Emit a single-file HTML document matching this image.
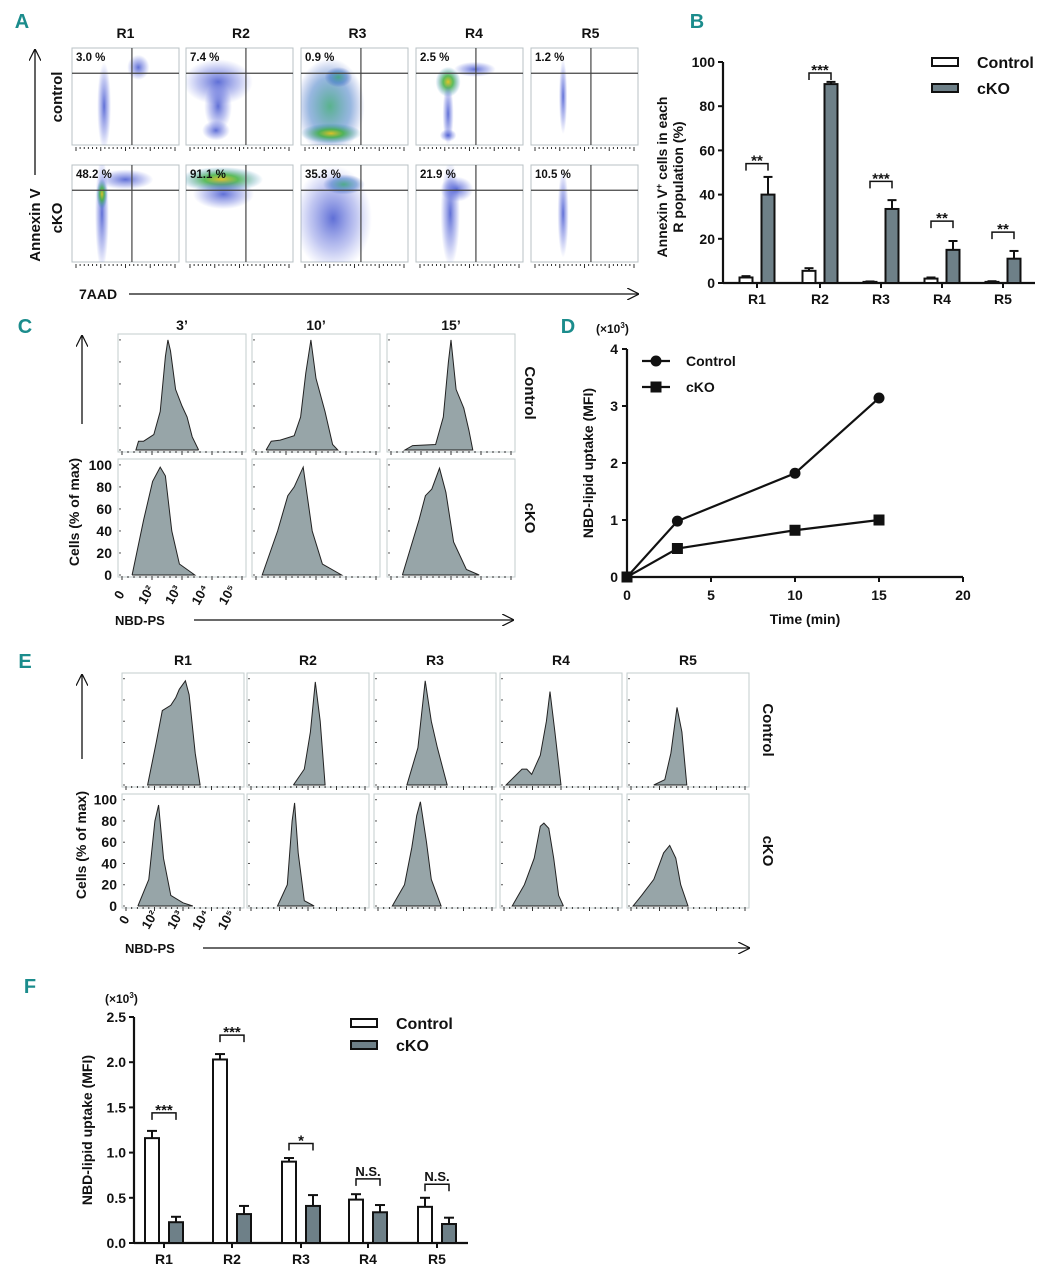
<!DOCTYPE html>
<html><head><meta charset="utf-8">
<style>
html,body{margin:0;padding:0;background:#fff;}
svg{display:block;font-family:"Liberation Sans",sans-serif;}
.t{font-weight:bold;fill:#111;}
.pl{font-weight:bold;fill:#1b8c8c;font-size:20px;}
</style></head>
<body>
<svg id="fig" width="1055" height="1280" viewBox="0 0 1055 1280" xmlns="http://www.w3.org/2000/svg">
<defs>
<marker id="ah" viewBox="0 0 10 10" refX="9" refY="5" markerWidth="12" markerHeight="12" markerUnits="userSpaceOnUse" orient="auto"><path d="M0,0 L10,5 L0,10" fill="none" stroke="#111" stroke-width="1"/></marker>
<radialGradient id="gBlue"><stop offset="0" stop-color="#2a3fc8" stop-opacity="0.75"/><stop offset="0.6" stop-color="#5060d8" stop-opacity="0.35"/><stop offset="1" stop-color="#6070e0" stop-opacity="0"/></radialGradient>
<radialGradient id="gHot"><stop offset="0" stop-color="#e0c020" stop-opacity="0.95"/><stop offset="0.4" stop-color="#40b040" stop-opacity="0.85"/><stop offset="1" stop-color="#2a7fc0" stop-opacity="0"/></radialGradient>
<radialGradient id="gGreen"><stop offset="0" stop-color="#30a070" stop-opacity="0.8"/><stop offset="0.6" stop-color="#3070c0" stop-opacity="0.5"/><stop offset="1" stop-color="#3050c0" stop-opacity="0"/></radialGradient>
</defs>
<g id="panelA"></g>
<g id="panelB"></g>
<g id="panelC"></g>
<g id="panelD"></g>
<g id="panelE"></g>
<g id="panelF"></g>
</svg>
<script>
// ---------- DATA ----------
const popLabels = ["R1","R2","R3","R4","R5"];
// Panel A
const aPctControl = ["3.0 %","7.4 %","0.9 %","2.5 %","1.2 %"];
const aPctCKO = ["48.2 %","91.1 %","35.8 %","21.9 %","10.5 %"];
const aCloudsControl = [
 [[0.3,0.6,0.05,0.35,"b"],[0.62,0.2,0.08,0.1,"b"]],
 [[0.3,0.35,0.25,0.18,"b"],[0.28,0.85,0.1,0.08,"b"],[0.3,0.6,0.1,0.2,"b"]],
 [[0.27,0.6,0.25,0.38,"g"],[0.28,0.88,0.22,0.08,"h"],[0.35,0.3,0.1,0.08,"g"]],
 [[0.3,0.35,0.09,0.12,"h"],[0.3,0.68,0.04,0.25,"b"],[0.55,0.22,0.15,0.06,"b"],[0.3,0.9,0.06,0.05,"b"]],
 [[0.3,0.5,0.03,0.3,"b"]]
];
const aCloudsCKO = [
 [[0.28,0.5,0.05,0.45,"b"],[0.28,0.3,0.04,0.12,"h"],[0.5,0.15,0.2,0.08,"b"]],
 [[0.33,0.15,0.3,0.1,"h"],[0.35,0.3,0.22,0.12,"b"]],
 [[0.3,0.55,0.28,0.42,"b"],[0.4,0.2,0.15,0.08,"g"]],
 [[0.32,0.5,0.07,0.42,"b"],[0.38,0.25,0.12,0.1,"b"]],
 [[0.3,0.5,0.04,0.35,"b"]]
];
// Panel B
const bCtrl = [2.5,5.5,0.5,2,0.5];
const bCtrlErr = [0.6,1.2,0.2,0.5,0.3];
const bCko = [40,90,33.5,15,11];
const bCkoErr = [8,1,4,4,3.5];
const bSig = ["**","***","***","**","**"];
const bSigLevel = [54,95,46,28,23];
const bTicks = [0,20,40,60,80,100];
// Panel C
const cTimes = ["3’","10’","15’"];
const cHistControl = [
 [[0.14,0],[0.16,8],[0.2,8],[0.28,14],[0.33,35],[0.37,85],[0.39,100],[0.41,90],[0.45,55],[0.5,40],[0.54,30],[0.58,12],[0.63,0]],
 [[0.11,0],[0.15,8],[0.22,9],[0.33,13],[0.38,30],[0.42,70],[0.46,100],[0.5,65],[0.57,35],[0.63,5],[0.67,0]],
 [[0.14,0],[0.2,4],[0.38,5],[0.44,30],[0.48,80],[0.5,100],[0.54,55],[0.6,38],[0.64,18],[0.67,0]]
];
const cHistCKO = [
 [[0.11,0],[0.2,50],[0.27,85],[0.33,98],[0.37,90],[0.42,40],[0.48,10],[0.6,0]],
 [[0.08,0],[0.2,40],[0.28,72],[0.33,80],[0.4,98],[0.47,40],[0.55,10],[0.7,0]],
 [[0.12,0],[0.25,50],[0.3,72],[0.35,78],[0.41,97],[0.46,75],[0.52,30],[0.62,5],[0.72,0]]
];
const histTicks = [0,20,40,60,80,100];
const logLabels = ["0","10²","10³","10⁴","10⁵"];
// Panel D
const dTime = [0,3,10,15];
const dControl = [0,0.98,1.82,3.14];
const dCKO = [0,0.5,0.82,1.0];
const dXTicks = [0,5,10,15,20];
const dYTicks = [0,1,2,3,4];
// Panel E
const eHistControl = [
 [[0.21,0],[0.28,40],[0.33,70],[0.4,75],[0.44,82],[0.47,90],[0.52,98],[0.55,85],[0.6,30],[0.64,0]],
 [[0.38,0],[0.47,15],[0.52,50],[0.56,97],[0.6,60],[0.64,0]],
 [[0.27,0],[0.36,35],[0.42,98],[0.47,60],[0.52,35],[0.6,0]],
 [[0.05,0],[0.18,15],[0.22,15],[0.26,10],[0.33,28],[0.38,60],[0.41,88],[0.45,50],[0.5,0]],
 [[0.22,0],[0.31,5],[0.36,30],[0.41,73],[0.45,50],[0.49,0]]
];
const eHistCKO = [
 [[0.13,0],[0.22,25],[0.27,80],[0.3,95],[0.34,45],[0.4,10],[0.5,3],[0.58,0]],
 [[0.25,0],[0.33,20],[0.37,80],[0.39,97],[0.42,50],[0.47,5],[0.55,0]],
 [[0.15,0],[0.25,20],[0.31,55],[0.35,85],[0.38,98],[0.43,60],[0.47,25],[0.55,0]],
 [[0.1,0],[0.2,20],[0.28,45],[0.33,75],[0.36,78],[0.4,73],[0.44,45],[0.48,10],[0.52,0]],
 [[0.05,0],[0.12,10],[0.22,25],[0.3,50],[0.35,57],[0.4,45],[0.44,20],[0.5,0]]
];
// Panel F
const fCtrl = [1.16,2.03,0.9,0.48,0.4];
const fCtrlErr = [0.08,0.06,0.04,0.06,0.1];
const fCko = [0.23,0.32,0.41,0.34,0.21];
const fCkoErr = [0.06,0.09,0.12,0.08,0.07];
const fSig = ["***","***","*","N.S.","N.S."];
const fSigLevel = [1.44,2.3,1.1,0.71,0.65];
const fTicks = [0,0.5,1.0,1.5,2.0,2.5];

// ---------- HELPERS ----------
const NS="http://www.w3.org/2000/svg";
function mk(parent,tag,attrs,text){const e=document.createElementNS(NS,tag);for(const k in attrs)e.setAttribute(k,attrs[k]);if(text!==undefined)e.textContent=text;parent.appendChild(e);return e;}
function txt(parent,x,y,s,size,anchor,rot,name,cls){
  const a={x:x,y:y,"font-size":size,"text-anchor":anchor||"middle",class:cls||"t"};
  if(rot)a.transform="rotate("+rot+" "+x+" "+y+")";
  const e=mk(parent,"text",a,s);
  
  
  return e;
}
function line(parent,x1,y1,x2,y2,w,col,extra){const a={x1:x1,y1:y1,x2:x2,y2:y2,stroke:col||"#111","stroke-width":w||1};if(extra)Object.assign(a,extra);return mk(parent,"line",a);}
function tickStrip(g,x0,x1,y){
  for(let i=0;i<=24;i++){const x=x0+ (x1-x0)*(i/24);const big=(i%6===0);line(g,x,y,x,y+(big?4:2),1,"#333");}
}

// ---------- PANEL A ----------
(function(){
 const g=document.getElementById("panelA");
 txt(g,22,28,"A",20,"middle",0,"panel-a-label","pl");
 const colX=[72,186,301,416,531], w=107;
 const rows=[{y:48,h:97,pct:aPctControl,cl:aCloudsControl,nm:"control"},{y:165,h:97,pct:aPctCKO,cl:aCloudsCKO,nm:"cko"}];
 popLabels.forEach((p,i)=>txt(g,colX[i]+w/2+ (i*1.5),38,p,14,"middle",0,"col-title-"+p.toLowerCase()));
 rows.forEach(r=>{
  colX.forEach((x,i)=>{
   const b=mk(g,"g",{});
   
   
   mk(b,"rect",{x:x,y:r.y,width:w,height:r.h,fill:"#fff",stroke:"#b8c2c4","stroke-width":1});
   const cp="clipA"+r.nm+i;
   const cpe=mk(b,"clipPath",{id:cp});mk(cpe,"rect",{x:x,y:r.y,width:w,height:r.h});
   const cg=mk(b,"g",{"clip-path":"url(#"+cp+")"});
   r.cl[i].forEach(c=>{
     const fill=c[4]==="h"?"url(#gHot)":(c[4]==="g"?"url(#gGreen)":"url(#gBlue)");
     mk(cg,"ellipse",{cx:x+c[0]*w,cy:r.y+c[1]*r.h,rx:c[2]*w*1.3,ry:c[3]*r.h*1.3,fill:fill});
   });
   line(b,x+0.56*w,r.y,x+0.56*w,r.y+r.h,1.2,"#444");
   line(b,x,r.y+0.26*r.h,x+w,r.y+0.26*r.h,1.2,"#444");
   tickStrip(b,x+4,x+w-4,r.y+r.h+2);
   txt(b,x+4,r.y+13,r.pct[i],11.5,"start",0,"gate-percent","t");
  });
 });
 txt(g,62,97,"control",15,"middle",-90,"row-label-control");
 txt(g,62,218,"cKO",15,"middle",-90,"row-label-cko");
 line(g,35,175,35,50,1.3,"#111",{"marker-end":"url(#ah)"});
 txt(g,40,225,"Annexin V",15,"middle",-90,"y-axis-title-annexin");
 txt(g,79,299,"7AAD",14,"start",0,"x-axis-title-7aad");
 line(g,129,294,638,294,1.3,"#111",{"marker-end":"url(#ah)"});
})();

// ---------- BAR CHART helper ----------
function barChart(g,o){
 const ys=v=>o.y0-(v-o.ymin)/(o.ymax-o.ymin)*(o.y0-o.y1);
 line(g,o.xAxis,o.y1,o.xAxis,o.y0,2.2);
 line(g,o.xAxis,o.y0,o.xEnd,o.y0,2.2);
 o.ticks.forEach(t=>{line(g,o.xAxis-5,ys(t),o.xAxis,ys(t),2);txt(g,o.xAxis-8,ys(t)+5,o.tickFmt(t),14,"end",0,"y-tick-label");});
 o.cats.forEach((c,i)=>{
  const cx=o.catX[i];
  line(g,cx,o.y0,cx,o.y0+5,2);
  txt(g,cx,o.y0+21,c,14,"middle",0,"x-tick-label-"+c.toLowerCase());
  [[o.ctrl,o.ctrlErr,cx-o.off,"#fff","control"],[o.cko,o.ckoErr,cx+o.off,"#6e8088","cko"]].forEach(s=>{
   const v=s[0][i],e=s[1][i],x=s[2];
   line(g,x,ys(v),x,ys(v+e),2);line(g,x-o.bw/2+2,ys(v+e),x+o.bw/2-2,ys(v+e),2);
   const r=mk(g,"rect",{x:x-o.bw/2,y:ys(v),width:o.bw,height:Math.max(o.y0-ys(v),0.5),fill:s[3],stroke:"#111","stroke-width":2});
   
   
  });
  const sy=ys(o.sigLevel[i]);
  const br=mk(g,"path",{d:"M"+(cx-o.off)+","+(sy+7)+"V"+sy+"H"+(cx+o.off)+"V"+(sy+7),fill:"none",stroke:"#111","stroke-width":1.5});
  
  
  const ns=o.sig[i]==="N.S.";
  txt(g,cx,sy+(ns?-3:2),o.sig[i],ns?13:15,"middle",0,"significance-label",ns?"":"t");
 });
 [["Control","#fff",o.legY[0]],["cKO","#6e8088",o.legY[1]]].forEach(l=>{
  const r=mk(g,"rect",{x:o.legX,y:l[2]-4,width:26,height:8,fill:l[1],stroke:"#111","stroke-width":2});
  
  
  txt(g,o.legX+45,l[2]+6,l[0],16,"start",0,"legend-entry-"+l[0].toLowerCase());
 });
}

// ---------- PANEL B ----------
(function(){
 const g=document.getElementById("panelB");
 txt(g,697,28,"B",20,"middle",0,"panel-b-label","pl");
 barChart(g,{y0:283,y1:62,ymin:0,ymax:100,xAxis:723,xEnd:1035,ticks:bTicks,tickFmt:t=>String(t),
  cats:popLabels,catX:[757,820,881,942,1003],off:11,bw:13,ctrl:bCtrl,ctrlErr:bCtrlErr,cko:bCko,ckoErr:bCkoErr,
  sig:bSig,sigLevel:bSigLevel,legX:932,legY:[62,88]});
 const t1=txt(g,667,177,"",14,"middle",-90,"y-axis-title-line1");
 t1.innerHTML='Annexin V<tspan dy="-5" font-size="9">+</tspan><tspan dy="5"> cells in each</tspan>';
 txt(g,683,177,"R population (%)",14,"middle",-90,"y-axis-title-line2");
})();

// ---------- HISTOGRAM helper ----------
function histBox(g,x,y,w,h,pts,name){
 const b=mk(g,"g",{});
 
 
 mk(b,"rect",{x:x,y:y,width:w,height:h,fill:"#fff",stroke:"#c3ccce","stroke-width":1});
 const base=y+h-2, top=y+h*0.05;
 const hy=v=>base-(v/100)*(base-top);
 let d="M"+(x+pts[0][0]*w)+","+base;
 pts.forEach(p=>{d+=" L"+(x+p[0]*w).toFixed(1)+","+hy(p[1]).toFixed(1);});
 d+=" L"+(x+pts[pts.length-1][0]*w)+","+base+" Z";
 const pa=mk(b,"path",{d:d,fill:"#97a5a8",stroke:"#222","stroke-width":1});
 
 
 for(let i=0;i<=5;i++){line(b,x+1,hy(i*20),x+3,hy(i*20),1,"#555");}
 for(let i=0;i<=20;i++){const xx=x+4+(w-8)*i/20;line(b,xx,base+1,xx,base+(i%5===0?5:3),1,"#333");}
 return hy;
}
function histPanel(g,colX,w,rowY,h,dataC,dataK,titles,titleY,ctrlLabX,ylab,xlab){
 titles.forEach((t,i)=>txt(g,colX[i]+w/2,titleY,t,14,"middle",0,"column-title"));
 let hy;
 colX.forEach((x,i)=>{histBox(g,x,rowY[0],w,h,dataC[i],"histogram-control-"+i);hy=histBox(g,x,rowY[1],w,h,dataK[i],"histogram-cko-"+i);});
 txt(g,ctrlLabX,(rowY[0]+h/2),"Control",15,"middle",90,"row-label-control");
 txt(g,ctrlLabX,(rowY[1]+h/2),"cKO",15,"middle",90,"row-label-cko");
 histTicks.forEach(t=>txt(g,ylab.x,hy(t)+5,String(t),14,"end",0,"y-tick-label"));
 txt(g,ylab.tx,rowY[1]+h/2-6,"Cells (% of max)",14,"middle",-90,"y-axis-title");
 line(g,ylab.ax,rowY[0]+h-28,ylab.ax,rowY[0]+2,1.3,"#111",{"marker-end":"url(#ah)"});
 logLabels.forEach((l,i)=>txt(g,xlab.x0+i*xlab.dx,xlab.y,l,13,"middle",-60,"x-tick-label"));
 txt(g,xlab.nx,xlab.ny,"NBD-PS",13,"start",0,"x-axis-title");
 line(g,xlab.ax0,xlab.ny-5,xlab.ax1,xlab.ny-5,1.3,"#111",{"marker-end":"url(#ah)"});
}

// ---------- PANEL C ----------
(function(){
 const g=document.getElementById("panelC");
 txt(g,25,333,"C",20,"middle",0,"panel-c-label","pl");
 histPanel(g,[118,252,387],128,[334,459],118,cHistControl,cHistCKO,cTimes,330,525,
  {x:112,tx:79,ax:82},{x0:123,dx:27,y:597,nx:115,ny:625,ax0:194,ax1:513});
})();

// ---------- PANEL D ----------
(function(){
 const g=document.getElementById("panelD");
 txt(g,568,333,"D",20,"middle",0,"panel-d-label","pl");
 const x0=627,y0=577,xs=v=>x0+v*(963-627)/20,ys=v=>y0-v*(577-349)/4;
 line(g,x0,349,x0,y0,2.2);line(g,x0,y0,963,y0,2.2);
 dYTicks.forEach(t=>{line(g,x0-5,ys(t),x0,ys(t),2);txt(g,x0-9,ys(t)+5,String(t),14,"end",0,"y-tick-label");});
 dXTicks.forEach(t=>{line(g,xs(t),y0,xs(t),y0+5,2);txt(g,xs(t),y0+23,String(t),14,"middle",0,"x-tick-label");});
 const xt=txt(g,596,333,"",12,"start",0,"y-axis-multiplier");
 xt.innerHTML='(×10<tspan dy="-5" font-size="8">3</tspan><tspan dy="5">)</tspan>';
 txt(g,593,463,"NBD-lipid uptake (MFI)",14,"middle",-90,"y-axis-title");
 txt(g,805,624,"Time (min)",14,"middle",0,"x-axis-title");
 const lc=mk(g,"polyline",{points:dTime.map((t,i)=>xs(t)+","+ys(dControl[i])).join(" "),fill:"none",stroke:"#111","stroke-width":2.2});
 
 
 const lk=mk(g,"polyline",{points:dTime.map((t,i)=>xs(t)+","+ys(dCKO[i])).join(" "),fill:"none",stroke:"#111","stroke-width":2.2});
 
 
 dTime.forEach((t,i)=>{
  const c=mk(g,"circle",{cx:xs(t),cy:ys(dControl[i]),r:5.5,fill:"#111"});
  
  
  const s=mk(g,"rect",{x:xs(t)-5.5,y:ys(dCKO[i])-5.5,width:11,height:11,fill:"#111"});
  
  
 });
 line(g,642,361,670,361,2.2);mk(g,"circle",{cx:656,cy:361,r:5.5,fill:"#111"});
 txt(g,686,366,"Control",14,"start",0,"legend-entry-control");
 line(g,642,387,670,387,2.2);mk(g,"rect",{x:650.5,y:381.5,width:11,height:11,fill:"#111"});
 txt(g,686,392,"cKO",14,"start",0,"legend-entry-cko");
})();

// ---------- PANEL E ----------
(function(){
 const g=document.getElementById("panelE");
 txt(g,25,668,"E",20,"middle",0,"panel-e-label","pl");
 histPanel(g,[122,247,374,500,627],122,[673,794],114,eHistControl,eHistCKO,popLabels,665,763,
  {x:117,tx:86,ax:82},{x0:128,dx:25.5,y:922,nx:125,ny:953,ax0:203,ax1:749});
})();

// ---------- PANEL F ----------
(function(){
 const g=document.getElementById("panelF");
 txt(g,30,993,"F",20,"middle",0,"panel-f-label","pl");
 barChart(g,{y0:1243,y1:1017,ymin:0,ymax:2.5,xAxis:134,xEnd:468,ticks:fTicks,tickFmt:t=>t.toFixed(1),
  cats:popLabels,catX:[164,232,301,368,437],off:12,bw:14,ctrl:fCtrl,ctrlErr:fCtrlErr,cko:fCko,ckoErr:fCkoErr,
  sig:fSig,sigLevel:fSigLevel,legX:351,legY:[1023,1045]});
 const xt=txt(g,105,1003,"",12,"start",0,"y-axis-multiplier");
 xt.innerHTML='(×10<tspan dy="-5" font-size="8">3</tspan><tspan dy="5">)</tspan>';
 txt(g,92,1130,"NBD-lipid uptake (MFI)",14,"middle",-90,"y-axis-title");
})();
</script>
</body></html>
